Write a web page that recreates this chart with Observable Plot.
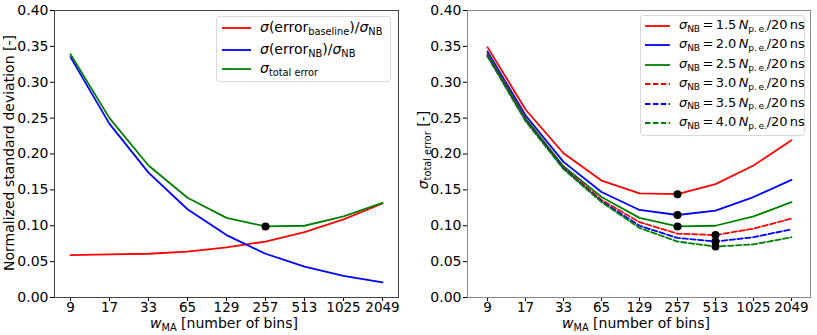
<!DOCTYPE html>
<html><head><meta charset="utf-8">
<script src="https://cdn.jsdelivr.net/npm/d3@7"></script>
<script src="https://cdn.jsdelivr.net/npm/@observablehq/plot@0.6"></script>
<style>
body{margin:0;background:#fff;font-family:"DejaVu Sans",sans-serif;}
#fig{position:relative;width:817px;height:335px;overflow:hidden;}
.panel{position:absolute;top:0;}
.lbl{position:absolute;font-size:14px;line-height:15px;white-space:nowrap;color:#000;}
.sub{font-size:70%;position:relative;top:0.3em;}
.it{font-style:italic;}
.legend{position:absolute;border:1px solid #d9d9d9;border-radius:3px;background:rgba(255,255,255,0.85);box-sizing:border-box;}
.row{position:absolute;white-space:nowrap;font-size:14px;line-height:16px;color:#000;}
.row2{position:absolute;white-space:nowrap;font-size:13px;line-height:16px;color:#000;letter-spacing:-0.1px;}
.swatch{position:absolute;}
</style></head>
<body><div id="fig"></div>
<script>
// ---- data ----
const wma = ["9","17","33","65","129","257","513","1025","2049"];
const yTicks = [0, 0.05, 0.10, 0.15, 0.20, 0.25, 0.30, 0.35, 0.40];
// left panel
const errBaseline = [0.059, 0.060, 0.061, 0.064, 0.070, 0.078, 0.091, 0.109, 0.131];
const errNB       = [0.335, 0.242, 0.174, 0.123, 0.087, 0.061, 0.043, 0.030, 0.021];
const totalError  = [0.339, 0.250, 0.184, 0.139, 0.111, 0.099, 0.100, 0.113, 0.132];
// right panel: sigma_total error for several sigma_NB
const sNB15 = [0.349, 0.262, 0.201, 0.163, 0.145, 0.144, 0.158, 0.184, 0.219];
const sNB20 = [0.343, 0.254, 0.189, 0.147, 0.122, 0.115, 0.121, 0.140, 0.164];
const sNB25 = [0.340, 0.250, 0.183, 0.140, 0.111, 0.099, 0.100, 0.113, 0.133];
const sNB30 = [0.338, 0.248, 0.181, 0.136, 0.105, 0.089, 0.087, 0.096, 0.110];
const sNB35 = [0.337, 0.247, 0.180, 0.134, 0.100, 0.083, 0.078, 0.084, 0.095];
const sNB40 = [0.336, 0.246, 0.179, 0.133, 0.097, 0.078, 0.071, 0.074, 0.084];
const nbLabels = ["1.5", "2.0", "2.5", "3.0", "3.5", "4.0"];

const RED = "#ff0000", BLUE = "#0000ff", GREEN = "#008000";
const toRows = vals => wma.map((w, i) => ({w, v: vals[i]}));
const minRow = vals => { const i = d3.minIndex(vals); return {w: wma[i], v: vals[i]}; };

const fig = document.getElementById("fig");
const common = {
  height: 335, marginTop: 10, marginBottom: 38,
  y: {domain: [0, 0.4]},
  style: {fontFamily: "DejaVu Sans", fontSize: "13.5px", color: "#000", background: "transparent", overflow: "visible"}
};
const axes = () => [
  Plot.axisX({tickSize: 4, tickPadding: 1, label: null, fontSize: 13.5}),
  Plot.axisY({ticks: yTicks, tickFormat: ".2f", tickSize: 4, tickPadding: 2, label: null, fontSize: 14})
];

// left
const leftSeries = [[errBaseline, RED], [errNB, BLUE], [totalError, GREEN]];
const left = Plot.plot({
  ...common, width: 408, marginLeft: 54, marginRight: 10,
  x: {type: "point", domain: wma, padding: 0.41},
  marks: [
    ...axes(),
    ...leftSeries.map(([vals, c]) => Plot.line(toRows(vals), {x: "w", y: "v", stroke: c, strokeWidth: 1.8})),
    Plot.dot([minRow(totalError)], {x: "w", y: "v", r: 4, fill: "black"}),
    Plot.frame({stroke: "#444", strokeWidth: 1})
  ]
});
left.classList.add("panel"); left.style.left = "0px";
fig.appendChild(left);

// right
const rightSeries = [
  [sNB15, RED, null], [sNB20, BLUE, null], [sNB25, GREEN, null],
  [sNB30, RED, "5.5,2.4"], [sNB35, BLUE, "5.5,2.4"], [sNB40, GREEN, "5.5,2.4"]
];
const right = Plot.plot({
  ...common, width: 409, marginLeft: 59, marginRight: 7,
  x: {type: "point", domain: wma, padding: 0.4},
  marks: [
    ...axes(),
    ...rightSeries.map(([vals, c, dash]) => Plot.line(toRows(vals), {x: "w", y: "v", stroke: c, strokeWidth: 1.8, strokeDasharray: dash ?? undefined})),
    Plot.dot(rightSeries.map(([vals]) => minRow(vals)), {x: "w", y: "v", r: 4, fill: "black"}),
    Plot.frame({stroke: "#888", strokeWidth: 1})
  ]
});
right.classList.add("panel"); right.style.left = "408px";
fig.appendChild(right);

// ---- axis labels ----
function addLabel(html, x, y, rotate) {
  const d = document.createElement("div");
  d.className = "lbl";
  d.innerHTML = html;
  d.style.left = x + "px"; d.style.top = y + "px";
  d.style.transform = "translate(-50%,-50%)" + (rotate ? " rotate(-90deg)" : "");
  fig.appendChild(d);
}
const xLab = '<span class="it">w</span><span class="sub">MA</span> [number of bins]';
addLabel(xLab, 224, 324);
addLabel(xLab, 636, 324);
addLabel("Normalized standard deviation [-]", 9, 153, true);
addLabel('<span class="it">σ</span><span class="sub">total error</span> [-]', 424, 150, true);

// ---- legends ----
function legend(x, y, w, h, rows, rowY, swX, swW, txtX, cls) {
  const box = document.createElement("div");
  box.className = "legend";
  Object.assign(box.style, {left: x + "px", top: y + "px", width: w + "px", height: h + "px"});
  rows.forEach((r, i) => {
    const sw = document.createElementNS("http://www.w3.org/2000/svg", "svg");
    sw.setAttribute("class", "swatch");
    sw.setAttribute("width", swW); sw.setAttribute("height", 6);
    sw.style.left = swX + "px"; sw.style.top = (rowY[i] - 3) + "px";
    const ln = document.createElementNS("http://www.w3.org/2000/svg", "line");
    ln.setAttribute("x1", 0); ln.setAttribute("x2", swW);
    ln.setAttribute("y1", 3); ln.setAttribute("y2", 3);
    ln.setAttribute("stroke", r.color); ln.setAttribute("stroke-width", 1.8);
    if (r.dash) ln.setAttribute("stroke-dasharray", r.dash);
    sw.appendChild(ln);
    box.appendChild(sw);
    const t = document.createElement("div");
    t.className = cls;
    t.innerHTML = r.html;
    t.style.left = txtX + "px"; t.style.top = (rowY[i] - 9) + "px";
    box.appendChild(t);
  });
  fig.appendChild(box);
}
legend(216, 16, 175, 66, [
  {color: RED, html: '<span class="it">σ</span>(error<span class="sub">baseline</span>)/<span class="it">σ</span><span class="sub">NB</span>'},
  {color: BLUE, html: '<span class="it">σ</span>(error<span class="sub">NB</span>)/<span class="it">σ</span><span class="sub">NB</span>'},
  {color: GREEN, html: '<span class="it">σ</span><span class="sub">total error</span>'}
], [11, 33, 52], 5, 29, 43, "row");

legend(640, 15, 165, 121, rightSeries.map(([vals, c, dash], i) => ({
  color: c, dash: dash,
  html: '<span class="it">σ</span><span class="sub">NB</span>\u2009=\u2009' + nbLabels[i] + '\u2009<span class="it">N</span><span class="sub">p.\u2009e.</span>/20\u2009ns'
})), [10, 29.4, 48.8, 68.2, 87.6, 107], 4, 25, 38, "row2");
</script>
</body></html>
